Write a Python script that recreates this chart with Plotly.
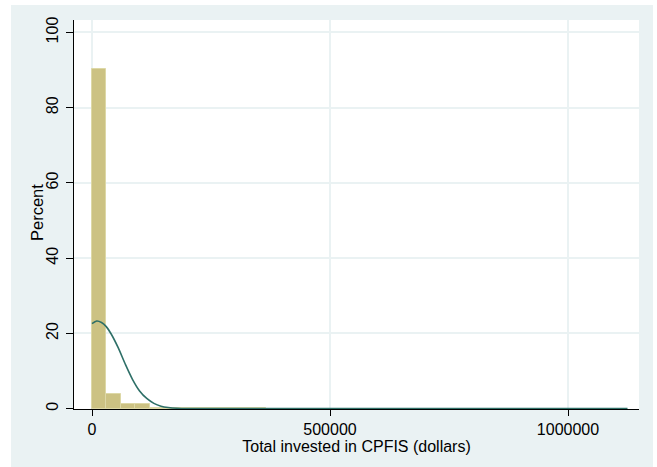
import plotly.graph_objects as go

# ---- data ----
bin_width = 30400
bin_heights = [90.2, 3.8, 1.35, 1.35, 0.3, 0.3, 0.3, 0.12, 0.12, 0.06,
               0.04, 0.04, 0.02, 0.02, 0.0, 0.02, 0.0, 0.02, 0.0, 0.0,
               0.02, 0.0, 0.0, 0.0, 0.02, 0.0, 0.0, 0.0, 0.0, 0.0,
               0.0, 0.0, 0.0, 0.0, 0.0, 0.0, 0.02]
bin_starts = [i * bin_width for i in range(len(bin_heights))]

curve_x = [0, 10000, 20000, 30000, 40000, 55000, 70000, 85000, 100000,
           115000, 130000, 145000, 160000, 180000, 200000, 230000, 300000, 1125000]
curve_y = [22.6, 23.3, 22.9, 21.8, 19.9, 16.2, 11.8, 7.8, 4.7,
           2.7, 1.4, 0.65, 0.3, 0.1, 0.03, 0.0, 0.0, 0.0]

y_ticks = [0, 20, 40, 60, 80, 100]
x_ticks = [0, 500000, 1000000]
x_tick_labels = ["0", "500000", "1000000"]

x_title = "Total invested in CPFIS (dollars)"
y_title = "Percent"

FONT = "Liberation Sans, Arial, sans-serif"
BG = "#EAF2F3"

fig = go.Figure()
fig.add_trace(go.Bar(
    x=[s + bin_width / 2 for s in bin_starts],
    y=bin_heights,
    width=[bin_width] * len(bin_heights),
    marker=dict(color="#CCC283", line=dict(color="#DDD8A6", width=1)),
    hoverinfo="skip",
    showlegend=False,
))
fig.add_trace(go.Scatter(
    x=curve_x, y=curve_y, mode="lines",
    line=dict(color="#2E6F67", width=1.6, shape="spline", smoothing=0.8),
    hoverinfo="skip", showlegend=False,
))

L, R, T, B = 74, 18, 20, 58
pw, ph = 657 - L - R, 467 - T - B

def px_x(p):
    return (p - L) / pw

def px_y(p):
    return (T + ph - p) / ph

fig.update_layout(
    template="none",
    width=657, height=467,
    margin=dict(l=L, r=R, t=T, b=B, pad=0, autoexpand=False),
    paper_bgcolor=BG,
    plot_bgcolor="white",
    bargap=0,
    font=dict(family=FONT, size=16, color="black"),
    shapes=[
        dict(type="rect", xref="paper", yref="paper",
             x0=px_x(0), x1=px_x(11), y0=px_y(467), y1=px_y(0),
             fillcolor="white", line=dict(width=0), layer="above"),
        dict(type="rect", xref="paper", yref="paper",
             x0=px_x(653), x1=px_x(657), y0=px_y(467), y1=px_y(0),
             fillcolor="white", line=dict(width=0), layer="above"),
        dict(type="rect", xref="paper", yref="paper",
             x0=px_x(0), x1=px_x(657), y0=px_y(5), y1=px_y(0),
             fillcolor="white", line=dict(width=0), layer="above"),
    ],
    annotations=[
        dict(text=y_title, xref="paper", yref="paper",
             x=px_x(37), y=px_y(213), xanchor="center", yanchor="middle",
             textangle=-90, showarrow=False, font=dict(size=16.5)),
    ],
)
fig.update_xaxes(
    automargin=False,
    range=[-37815, 1149160],
    tickvals=x_ticks, ticktext=x_tick_labels,
    showgrid=True, gridcolor=BG, gridwidth=1.6,
    zeroline=False,
    showline=True, linecolor="black", linewidth=1,
    ticks="outside", ticklen=6, tickcolor="black", tickwidth=1,
    tickfont=dict(size=16),
    title=dict(text=x_title, font=dict(size=16), standoff=0),
)
fig.update_yaxes(
    automargin=False,
    range=[-0.1, 103.3],
    tickvals=y_ticks,
    tickangle=-90,
    showgrid=True, gridcolor=BG, gridwidth=1.6,
    zeroline=False,
    showline=True, linecolor="black", linewidth=1,
    ticks="outside", ticklen=7, tickcolor="black", tickwidth=1,
    ticklabelstandoff=2,
    tickfont=dict(size=16),
)

fig.write_html(
    "out.html",
    config={"displayModeBar": False},
    post_script="document.body.style.margin='0';document.body.style.padding='0';",
)
